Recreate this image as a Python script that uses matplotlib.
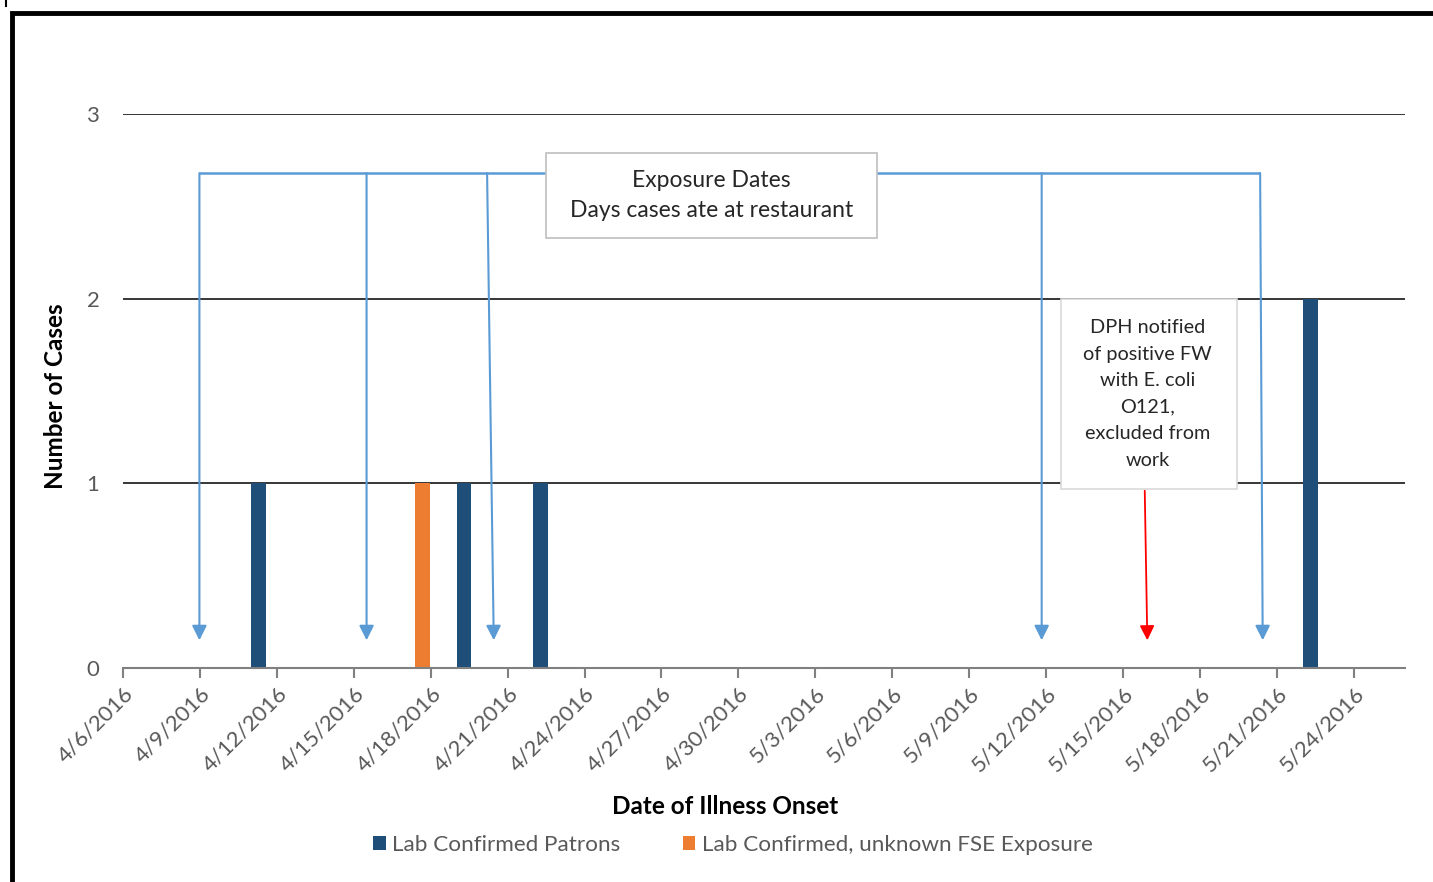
import datetime as dt
import matplotlib.pyplot as plt
from matplotlib.patches import Rectangle, Patch
from matplotlib.lines import Line2D

plt.rcParams['font.family'] = ['Lato', 'DejaVu Sans']

start = dt.date(2016, 4, 6)
end = dt.date(2016, 5, 26)

# cases by onset date
patron_dates = [dt.date(2016, 4, 11), dt.date(2016, 4, 19), dt.date(2016, 4, 22), dt.date(2016, 5, 22)]
patron_cases = [1, 1, 1, 2]
unknown_dates = [dt.date(2016, 4, 17)]
unknown_cases = [1]

tick_labels = ['4/6/2016', '4/9/2016', '4/12/2016', '4/15/2016', '4/18/2016', '4/21/2016',
               '4/24/2016', '4/27/2016', '4/30/2016', '5/3/2016', '5/6/2016', '5/9/2016',
               '5/12/2016', '5/15/2016', '5/18/2016', '5/21/2016', '5/24/2016']

# exposure arrows (days after 4/6): top x, tip x
exposure_top = [2.98, 9.5, 14.2, 35.83, 44.35]
exposure_tip = [2.98, 9.5, 14.46, 35.83, 44.45]
notify_top, notify_tip = 39.85, 39.95

blue = '#1F4E79'
orange = '#ED7D31'
light_blue = '#5B9BD5'
gray_txt = '#595959'


def day(d):
    return (d - start).days


fig = plt.figure(figsize=(14.33, 8.82), dpi=100)
ax = fig.add_axes([123 / 1433, 1 - 668 / 882, (1405 - 123) / 1433, (668 - 114) / 882])

ax.bar([day(d) + 0.3 for d in patron_dates], patron_cases, width=0.58, color=blue, zorder=3)
ax.bar([day(d) + 0.68 for d in unknown_dates], unknown_cases, width=0.58, color=orange, zorder=3)

ax.set_xlim(0, day(end))
ax.set_ylim(0, 3)
ax.set_yticks([0, 1, 2, 3])
ax.set_xticks(range(0, len(tick_labels) * 3, 3))
ax.set_xticklabels(tick_labels, rotation=45, ha='right', rotation_mode='anchor')
ax.tick_params(axis='x', colors='#808080', labelcolor=gray_txt, labelsize=16, length=7, width=1.5, pad=4)
ax.tick_params(axis='y', length=0, labelcolor=gray_txt, labelsize=16, pad=17)
for s in ['top', 'right', 'left']:
    ax.spines[s].set_visible(False)
ax.spines['bottom'].set_color('#808080')
ax.spines['bottom'].set_linewidth(1.5)
ax.spines['bottom'].set_zorder(4)
ax.grid(axis='y', color='#262626', lw=1.3, zorder=0)
ax.set_axisbelow(True)

ax.set_ylabel('Number of Cases', fontsize=17.5, fontweight='bold')
ax.yaxis.set_label_coords((55 - 123) / 1282, (668 - 396) / 554)
ax.set_xlabel('Date of Illness Onset', fontsize=17.5, fontweight='bold')
ax.xaxis.set_label_coords((725 - 123) / 1282, -(806 - 668) / 554)
ax.xaxis.label.set_va('center')
ax.yaxis.label.set_va('center')

# exposure arrows
ax.plot([exposure_top[0], exposure_top[-1]], [2.68, 2.68], color=light_blue, lw=1.8, zorder=5,
        solid_capstyle='butt')
for xt, xb in zip(exposure_top, exposure_tip):
    ax.annotate('', xy=(xb, 0.15), xytext=(xt, 2.68),
                arrowprops=dict(arrowstyle='-|>', color=light_blue, lw=1.5, mutation_scale=22,
                                shrinkA=0, shrinkB=0), zorder=5)
ax.annotate('', xy=(notify_tip, 0.15), xytext=(notify_top, 0.96),
            arrowprops=dict(arrowstyle='-|>', color='red', lw=1.3, mutation_scale=22,
                            shrinkA=0, shrinkB=0), zorder=5)

# annotation boxes
ax.add_patch(Rectangle((16.5, 2.33), 12.9, 0.46, facecolor='white', edgecolor='#BFBFBF', lw=1.2, zorder=6))
ax.text(22.95, 2.56, 'Exposure Dates\nDays cases ate at restaurant', ha='center', va='center',
        fontsize=16.5, color='#262626', linespacing=1.5, zorder=7)
ax.add_patch(Rectangle((36.6, 0.97), 6.85, 1.03, facecolor='white', edgecolor='#D9D9D9', lw=1.2, zorder=6))
ax.text(39.95, 1.484, 'DPH notified\nof positive FW\nwith E. coli\nO121,\nexcluded from\nwork', ha='center',
        va='center', fontsize=14.3, color='#262626', linespacing=1.68, zorder=7)

handles = [Patch(facecolor=blue), Patch(facecolor=orange)]
fig.legend(handles, ['Lab Confirmed Patrons', 'Lab Confirmed, unknown FSE Exposure'],
           loc='center', bbox_to_anchor=(733 / 1433, 1 - 845 / 882), ncol=2, frameon=False,
           fontsize=16.2, labelcolor=gray_txt, handlelength=0.55, handleheight=0.55,
           handletextpad=0.3, columnspacing=2.75)

# outer frame
fig.add_artist(Rectangle((12 / 1433, -0.5), 2, 0.5 + 1 - 13 / 882, transform=fig.transFigure,
                         fill=False, edgecolor='black', lw=3.5))
fig.add_artist(Line2D([6 / 1433, 6 / 1433], [1, 1 - 6 / 882], transform=fig.transFigure,
                      color='black', lw=1.5))

fig.savefig('out.png', dpi=100)
